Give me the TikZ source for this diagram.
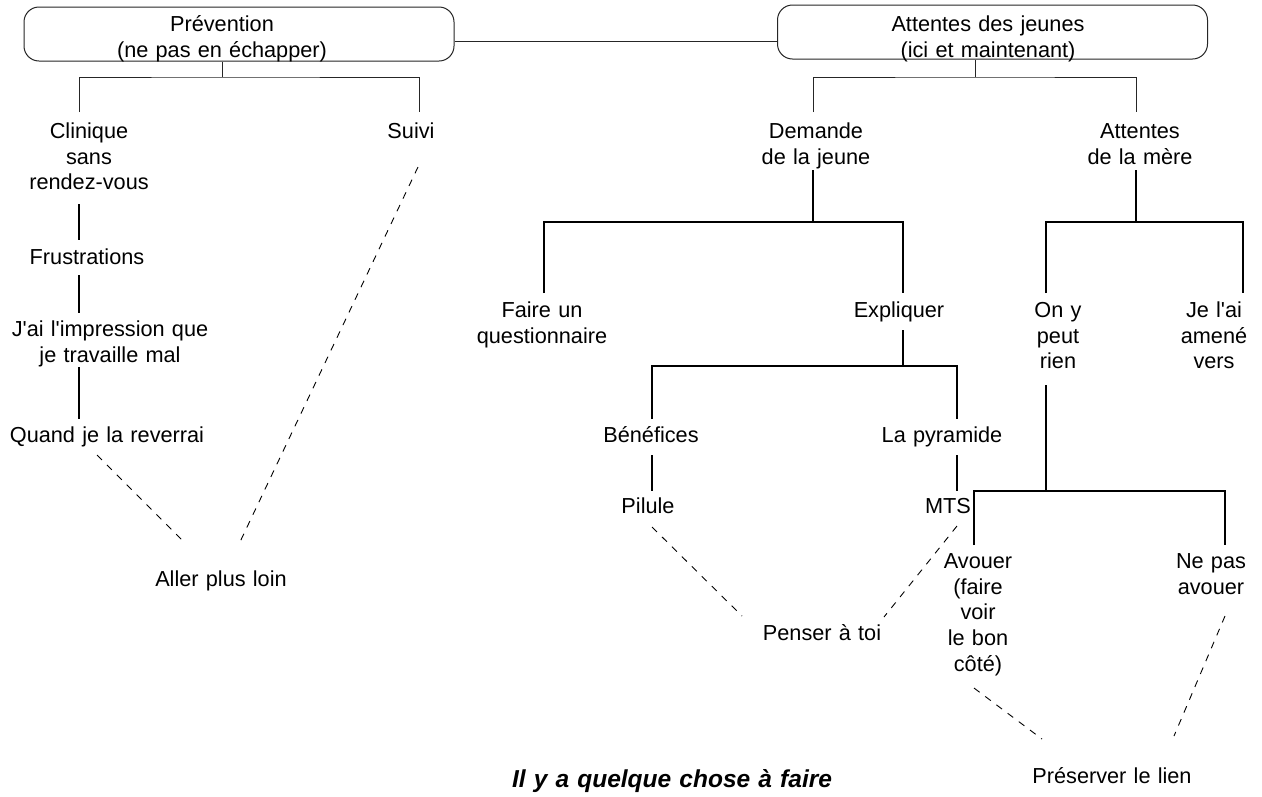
\documentclass[tikz,border=0pt]{standalone}
\usepackage{fontspec}
\newfontfamily\diafont{Liberation Sans}

\begin{document}
\begin{tikzpicture}[x=1pt, y=-1pt,
    lbl/.style={anchor=base, inner sep=0pt, align=center, text width=260pt,
      font=\diafont\fontsize{21.7}{25.7}\selectfont},
    box/.style={draw=black!85, line width=1pt, rounded corners=15pt,
      minimum width=430pt, minimum height=54pt, inner sep=0pt},
    thinline/.style={draw=black!85, line width=1pt},
    thickline/.style={draw=black, line width=1.8pt},
    dashline/.style={draw=black, line width=0.9pt, dash pattern=on 7pt off 7pt}]
  \useasboundingbox[fill=white] (0,0) rectangle (1262,796);

  % the two boxes
  \node (prev) at (239,34) [box] {};
  \node (att)  at (992.5,32) [box] {};
  \node (prevtxt) at (222,31.5) [lbl] {Prévention\\(ne pas en échapper)};
  \node (atttxt)  at (988,31.5) [lbl] {Attentes des jeunes\\(ici et maintenant)};
  \draw[thinline] ([yshift=-7pt]prev.east) -- ([yshift=-7pt]prev.east -| att.west);

  % left side
  \node (clin)  at (89,138.5)  [lbl] {Clinique\\sans\\rendez-vous};
  \node (suivi) at (411,138.5) [lbl] {Suivi};
  \node (frus)  at (87,264.5)  [lbl] {Frustrations};
  \node (jai)   at (110,336.5) [lbl] {J'ai l'impression que\\je travaille mal};
  \node (quand) at (107,442.5) [lbl] {Quand je la reverrai};
  \node (aller) at (221,586.5) [lbl] {Aller plus loin};

  \coordinate (pv) at (222,77);
  \coordinate (clin-in) at (79,112);   \coordinate (suivi-in) at (419,112);
  \coordinate (clin-out) at (79,204);  \coordinate (frus-in) at (79,240);
  \coordinate (frus-out) at (79,275);  \coordinate (jai-in) at (79,313);
  \coordinate (jai-out) at (79,367);   \coordinate (quand-in) at (79,419);
  \coordinate (quand-out) at (97,455); \coordinate (aller-l) at (186,544);
  \coordinate (suivi-out) at (418,167);\coordinate (aller-r) at (239,544);

  \draw[thinline] (pv |- prev.south) -- (pv);
  \draw[thinline] (clin-in) |- (pv) -| (suivi-in);
  \draw[thickline] (clin-out) -- (frus-in);
  \draw[thickline] (frus-out) -- (jai-in);
  \draw[thickline] (jai-out) -- (quand-in);
  \draw[dashline] (quand-out) -- (aller-l);
  \draw[dashline] (suivi-out) -- (aller-r);

  % right side
  \node (dem)   at (816,138.5)  [lbl] {Demande\\de la jeune};
  \node (mere)  at (1140,138.5) [lbl] {Attentes\\de la mère};
  \node (faire) at (542,317.5)  [lbl] {Faire un\\questionnaire};
  \node (expl)  at (899,317.5)  [lbl] {Expliquer};
  \node (ony)   at (1058,317.5) [lbl] {On y\\peut\\rien};
  \node (jelai) at (1214,317.5) [lbl] {Je l'ai\\amené\\vers};
  \node (bene)  at (651,442.5)  [lbl] {Bénéfices};
  \node (pyr)   at (942,442.5)  [lbl] {La pyramide};
  \node (pil)   at (648,513.5)  [lbl] {Pilule};
  \node (mts)   at (948,513.5)  [lbl] {MTS};
  \node (pens)  at (822,640.5)  [lbl] {Penser à toi};
  \node (avou)  at (978,568.5)  [lbl] {Avouer\\(faire\\voir\\le bon\\côté)};
  \node (nepas) at (1211,568.5) [lbl] {Ne pas\\avouer};
  \node (pres)  at (1112,783.5) [lbl] {Préserver le lien};
  \node (motto) at (672,787.5)  [lbl, text width=400pt,
    font=\diafont\bfseries\itshape\fontsize{24.5}{28}\selectfont]
    {Il y a quelque chose à faire};

  \coordinate (at) at (975,77);
  \coordinate (dem-in) at (813,112);    \coordinate (mere-in) at (1136,112);
  \coordinate (dem-out) at (813,170);   \coordinate (dm) at (813,222);
  \coordinate (faire-in) at (544,293);  \coordinate (expl-in) at (903,293);
  \coordinate (mere-out) at (1136,170); \coordinate (mr) at (1136,222);
  \coordinate (ony-in) at (1046,293);   \coordinate (jelai-in) at (1243,293);
  \coordinate (expl-out) at (903,330);  \coordinate (ex) at (903,366);
  \coordinate (bene-in) at (652,419);   \coordinate (pyr-in) at (957,419);
  \coordinate (bene-out) at (652,455);  \coordinate (pil-in) at (652,491);
  \coordinate (pyr-out) at (957,455);   \coordinate (mts-in) at (957,491);
  \coordinate (pil-out) at (652,527);   \coordinate (pens-l) at (742,616);
  \coordinate (mts-out) at (957,526);   \coordinate (pens-r) at (884,617);
  \coordinate (ony-out) at (1046,385);  \coordinate (oy) at (1046,491);
  \coordinate (avou-in) at (974,545);   \coordinate (nepas-in) at (1225,545);
  \coordinate (avou-out) at (974,688);  \coordinate (pres-l) at (1042,739);
  \coordinate (nepas-out) at (1225,616);\coordinate (pres-r) at (1174,736);

  \draw[thinline] (at |- att.south) -- (at);
  \draw[thinline] (dem-in) |- (at) -| (mere-in);
  \draw[thickline] (dem-out) -- (dm);
  \draw[thickline] (faire-in) |- (dm) -| (expl-in);
  \draw[thickline] (mere-out) -- (mr);
  \draw[thickline] (ony-in) |- (mr) -| (jelai-in);
  \draw[thickline] (expl-out) -- (ex);
  \draw[thickline] (bene-in) |- (ex) -| (pyr-in);
  \draw[thickline] (bene-out) -- (pil-in);
  \draw[thickline] (pyr-out) -- (mts-in);
  \draw[thickline] (ony-out) -- (oy);
  \draw[thickline] (avou-in) |- (oy) -| (nepas-in);
  \draw[dashline] (pil-out) -- (pens-l);
  \draw[dashline] (mts-out) -- (pens-r);
  \draw[dashline] (avou-out) -- (pres-l);
  \draw[dashline] (nepas-out) -- (pres-r);
\end{tikzpicture}
\end{document}
